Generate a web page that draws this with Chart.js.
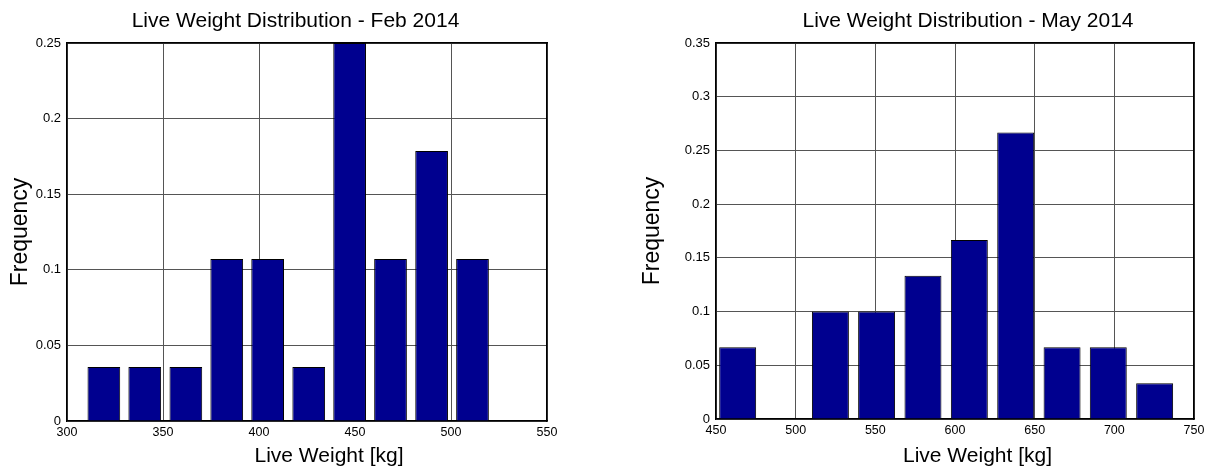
<!DOCTYPE html>
<html>
<head>
<meta charset="utf-8">
<script src="https://cdn.jsdelivr.net/npm/chart.js@4"></script>
<style>
    html, body { margin: 0; padding: 0; background: #fff; overflow: hidden; width: 1210px; height: 469px; }
    canvas { position: absolute; top: 0; }
    #feb-hist { left: 0; }
    #may-hist { left: 620px; }
</style>
</head>
<body>
<canvas id="feb-hist" width="591" height="469"></canvas>
<canvas id="may-hist" width="696" height="469"></canvas>
<script>
// bin centres (kg) and relative frequency
var febCenters = [319.2, 340.5, 361.9, 383.2, 404.5, 425.9, 447.2, 468.5, 489.9, 511.2];
var febFreq = [0.0357, 0.0357, 0.0357, 0.1071, 0.1071, 0.0357, 0.25, 0.1071, 0.1786, 0.1071];
var febXRange = [300, 550];
var febYMax = 0.25;

var mayCenters = [463.6, 492.7, 521.8, 550.8, 579.9, 609.0, 638.1, 667.2, 696.2, 725.3];
var mayFreq = [0.0667, 0, 0.1, 0.1, 0.1333, 0.1667, 0.2667, 0.0667, 0.0667, 0.0333];
var mayXRange = [450, 750];
var mayYMax = 0.35;

var xStep = 50;
var yStep = 0.05;

Chart.defaults.font.family = '"Liberation Sans", Arial, Helvetica, sans-serif';
Chart.defaults.color = '#000';

// x label sits a bit right of the axes centre in the original, so draw it by hand
var xLabelPlugin = {
    id: 'xLabel',
    afterDraw: function (chart, args, opts) {
        var ctx = chart.ctx;
        var area = chart.chartArea;
        ctx.save();
        ctx.font = '21px "Liberation Sans", Arial, Helvetica, sans-serif';
        ctx.fillStyle = '#000';
        ctx.textAlign = 'center';
        ctx.textBaseline = 'middle';
        ctx.fillText(opts.text, (area.left + area.right) / 2 + opts.dx, opts.y);
        ctx.restore();
    }
};

function histChart(id, title, centers, freq, xRange, yMax, box) {
    var points = [];
    for (var i in centers) {
        points.push({ x: centers[i], y: freq[i] });
    }

    return new Chart(document.getElementById(id), {
        type: 'bar',
        data: {
            datasets: [{
                data: points,
                xAxisID: 'x',
                yAxisID: 'y',
                backgroundColor: '#00008F',
                borderColor: '#000',
                borderWidth: 1,
                barPercentage: 0.8,
                categoryPercentage: 1
            }]
        },
        options: {
            responsive: false,
            animation: false,
            events: [],
            layout: { padding: 0 },
            plugins: {
                legend: { display: false },
                tooltip: { enabled: false },
                title: {
                    display: true,
                    text: title,
                    color: '#000',
                    font: { size: 21, weight: 'normal' },
                    padding: { top: 8.8, bottom: 9 }
                },
                xLabel: { text: 'Live Weight [kg]', dx: box.labelShift, y: 456.5 }
            },
            scales: {
                x: {
                    type: 'linear',
                    position: 'bottom',
                    min: xRange[0],
                    max: xRange[1],
                    offset: false,
                    ticks: { stepSize: xStep, color: '#000', font: { size: 12.5 }, padding: 4 },
                    grid: { color: '#555', lineWidth: 1, drawTicks: false, offset: false },
                    border: { color: '#000', width: 1.5 },
                    afterFit: function (s) { s.height = box.xHeight; }
                },
                y: {
                    type: 'linear',
                    position: 'left',
                    min: 0,
                    max: yMax,
                    ticks: {
                        stepSize: yStep,
                        color: '#000',
                        font: { size: 13 },
                        padding: 6,
                        callback: function (value) {
                            return String(Math.round(value * 100) / 100);
                        }
                    },
                    grid: { color: '#555', lineWidth: 1, drawTicks: false },
                    border: { color: '#000', width: 1.5 },
                    title: {
                        display: true,
                        text: 'Frequency',
                        color: '#000',
                        font: { size: 23 },
                        padding: { top: box.yTitlePad, bottom: 0 }
                    },
                    afterFit: function (s) { s.width = box.yWidth; }
                },
                // empty axes only used to close the box on top and right
                xTop: {
                    type: 'linear',
                    position: 'top',
                    ticks: { display: false },
                    grid: { display: false, drawTicks: false },
                    border: { color: '#000', width: 1.5 },
                    afterFit: function (s) { s.height = 0; }
                },
                yRight: {
                    type: 'linear',
                    position: 'right',
                    ticks: { display: false },
                    grid: { display: false, drawTicks: false },
                    border: { color: '#000', width: 1.5 },
                    afterFit: function (s) { s.width = box.rightWidth; }
                }
            }
        },
        plugins: [xLabelPlugin]
    });
}

histChart('feb-hist', 'Live Weight Distribution - Feb 2014', febCenters, febFreq, febXRange, febYMax,
    { yWidth: 67, rightWidth: 44, xHeight: 48, yTitlePad: 6.9, labelShift: 22 });

histChart('may-hist', 'Live Weight Distribution - May 2014', mayCenters, mayFreq, mayXRange, mayYMax,
    { yWidth: 96, rightWidth: 122, xHeight: 50, yTitlePad: 19.2, labelShift: 22.5 });
</script>
</body>
</html>
